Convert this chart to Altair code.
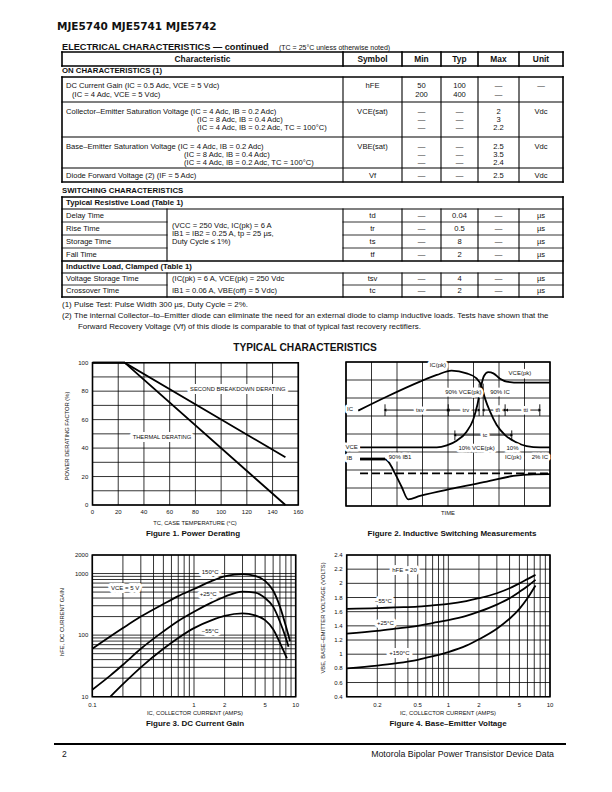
import altair as alt
import pandas as pd

W, H = 612, 792
SANS = "Liberation Sans"
NARROW = "Liberation Sans Narrow, Liberation Sans"
HEAVY = "DejaVu Sans"
INK = "#111111"

# ---------------- page / table text ----------------
page_header = "MJE5740 MJE5741 MJE5742"
section_title = "ELECTRICAL CHARACTERISTICS — continued"
section_note = "(TC = 25°C unless otherwise noted)"
col_headers = ["Characteristic", "Symbol", "Min", "Typ", "Max", "Unit"]

on_title = "ON CHARACTERISTICS (1)"
on_characteristic = [
    ["DC Current Gain (IC = 0.5 Adc, VCE = 5 Vdc)", "(IC = 4 Adc, VCE = 5 Vdc)"],
    ["Collector–Emitter Saturation Voltage (IC = 4 Adc, IB = 0.2 Adc)",
     "(IC = 8 Adc, IB = 0.4 Adc)", "(IC = 4 Adc, IB = 0.2 Adc, TC = 100°C)"],
    ["Base–Emitter Saturation Voltage (IC = 4 Adc, IB = 0.2 Adc)",
     "(IC = 8 Adc, IB = 0.4 Adc)", "(IC = 4 Adc, IB = 0.2 Adc, TC = 100°C)"],
    ["Diode Forward Voltage (2) (IF = 5 Adc)"],
]
on_symbol = ["hFE", "VCE(sat)", "VBE(sat)", "Vf"]
on_min = [["50", "200"], ["—", "—", "—"], ["—", "—", "—"], ["—"]]
on_typ = [["100", "400"], ["—", "—", "—"], ["—", "—", "—"], ["—"]]
on_max = [["—", "—"], ["2", "3", "2.2"], ["2.5", "3.5", "2.4"], ["2.5"]]
on_unit = ["—", "Vdc", "Vdc", "Vdc"]

sw_title = "SWITCHING CHARACTERISTICS"
res_title = "Typical Resistive Load (Table 1)"
res_characteristic = ["Delay Time", "Rise Time", "Storage Time", "Fall Time"]
res_conditions = ["(VCC = 250 Vdc, IC(pk) = 6 A", "IB1 = IB2 = 0.25 A, tp = 25 µs,", "Duty Cycle ≤ 1%)"]
res_symbol = ["td", "tr", "ts", "tf"]
res_min = ["—", "—", "—", "—"]
res_typ = ["0.04", "0.5", "8", "2"]
res_max = ["—", "—", "—", "—"]
res_unit = ["µs", "µs", "µs", "µs"]

ind_title = "Inductive Load, Clamped (Table 1)"
ind_characteristic = ["Voltage Storage Time", "Crossover Time"]
ind_conditions = ["(IC(pk) = 6 A, VCE(pk) = 250 Vdc", "IB1 = 0.06 A, VBE(off) = 5 Vdc)"]
ind_symbol = ["tsv", "tc"]
ind_min = ["—", "—"]
ind_typ = ["4", "2"]
ind_max = ["—", "—"]
ind_unit = ["µs", "µs"]

note_marks = ["(1)", "(2)"]
note_texts = [
    "Pulse Test: Pulse Width 300 µs, Duty Cycle = 2%.",
    "The internal Collector–to–Emitter diode can eliminate the need for an external diode to clamp inductive loads. Tests have shown that the",
]
note_cont = "Forward Recovery Voltage (Vf) of this diode is comparable to that of typical fast recovery rectifiers."

typical_title = "TYPICAL CHARACTERISTICS"
footer_page = "2"
footer_text = "Motorola Bipolar Power Transistor Device Data"

# ---------------- Figure 1: power derating ----------------
f1_x_ticks = [0, 20, 40, 60, 80, 100, 120, 140, 160]
f1_y_ticks = [0, 20, 40, 60, 80, 100]
f1_x_grid = [0, 20, 40, 60, 80, 100, 120, 140, 160]
f1_y_grid = [0, 10, 20, 30, 40, 50, 60, 70, 80, 90, 100]
f1_temp = [0, 25, 150]
f1_thermal = [100, 100, 0]
f1_second_bd = [100, 100, 33.5]
f1_labels = ["SECOND BREAKDOWN DERATING", "THERMAL DERATING"]
f1_label_x = [113, 54]
f1_label_y = [81.5, 48]

# ---------------- Figure 2: inductive switching ----------------
f2_x_grid = [0, 1, 2, 3, 4, 5, 6, 7, 8]
f2_y_grid = [0, 1, 2, 3, 4, 5, 6, 7, 8]
f2_ic_t = [0.48, 1.59, 2.90, 3.56, 4.14, 4.73, 5.12, 5.32, 5.45, 5.65, 5.91, 6.24, 6.63, 7.08, 7.61, 8.0]
f2_ic_v = [5.30, 6.07, 6.91, 7.28, 7.52, 7.37, 7.09, 6.63, 5.98, 5.24, 4.50, 3.94, 3.57, 3.33, 3.26, 3.26]
f2_vce_t = [0.55, 3.56, 3.95, 4.34, 4.73, 4.99, 5.15, 5.28, 5.41, 5.58, 5.78, 6.04, 6.30, 6.82, 8.0]
f2_vce_v = [3.26, 3.26, 3.37, 3.63, 4.13, 4.81, 5.61, 6.54, 7.22, 7.44, 7.37, 7.07, 6.91, 6.85, 6.85]
f2_ib_flat_t = [0.55, 1.53]
f2_ib_flat_v = [2.61, 2.61]
f2_ib_t = [1.53, 1.66, 1.92, 2.18, 2.44, 2.90, 4.21, 5.52, 6.56, 7.35, 8.0]
f2_ib_v = [2.61, 2.46, 1.81, 1.07, 0.37, 0.56, 0.98, 1.35, 1.67, 1.76, 1.77]
f2_ref_t = [0.55, 8.0]
f2_ref_v = [1.81, 1.81]
f2_int_names = ["tsv", "trv", "tfi", "tti", "tc"]
f2_int_start = [1.53, 4.01, 5.38, 6.30, 4.27]
f2_int_end = [4.01, 5.22, 6.24, 7.60, 6.50]
f2_int_level = [5.33, 5.33, 5.33, 5.33, 3.94]
f2_int_label_x = [2.90, 4.70, 5.95, 7.05, 5.45]
f2_mark_t = [1.53, 4.01, 5.22, 5.38, 6.24, 7.60, 4.27, 6.50]
f2_mark_lo = [5.00, 5.00, 5.00, 5.00, 5.00, 5.00, 3.65, 3.65]
f2_mark_hi = [5.65, 5.65, 6.80, 6.80, 5.65, 5.65, 4.20, 4.20]
f2_labels = ["IC(pk)", "VCE(pk)", "90% VCE(pk)", "90% IC", "IC", "VCE",
             "10% VCE(pk)", "10%", "IC(pk)", "2% IC", "IB", "90% IB1"]
f2_label_x = [3.60, 6.82, 4.60, 6.04, 0.16, 0.22, 5.12, 6.53, 6.56, 7.60, 0.13, 2.12]
f2_label_y = [7.83, 7.39, 6.35, 6.35, 5.39, 3.26, 3.20, 3.20, 2.70, 2.70, 2.65, 2.70]

# ---------------- Figure 3: DC current gain ----------------
f3_x_tick_v = [0.1, 1, 2, 5, 10]
f3_x_tick_t = ["0.1", "1", "2", "5", "10"]
f3_y_tick_v = [10, 100, 1000, 2000]
f3_y_tick_t = ["10", "100", "1000", "2000"]
f3_x_grid = [0.1, 0.2, 0.3, 0.4, 0.5, 0.6, 0.7, 0.8, 0.9, 1, 2, 3, 4, 5, 6, 7, 8, 9, 10]
f3_y_grid = [10, 20, 30, 40, 50, 60, 70, 80, 90, 100, 200, 300, 400, 500, 600, 700, 800, 900, 1000, 2000]
f3_ic_150 = [0.1, 0.2, 0.3, 0.5, 0.7, 1, 1.5, 2, 2.5, 3, 4, 5, 6, 7, 8, 8.8]
f3_hfe_150 = [60, 130, 200, 320, 430, 560, 760, 900, 960, 980, 920, 760, 530, 290, 140, 80]
f3_ic_25 = [0.1, 0.15, 0.2, 0.3, 0.5, 0.7, 1, 1.5, 2, 3, 4, 5, 6, 7, 8, 8.5]
f3_hfe_25 = [13, 22, 33, 60, 115, 170, 240, 340, 420, 510, 490, 400, 290, 165, 90, 65]
f3_ic_m55 = [0.15, 0.2, 0.3, 0.5, 0.7, 1, 1.5, 2, 3, 4, 5, 6, 7, 8.2]
f3_hfe_m55 = [10, 16, 30, 60, 90, 130, 175, 205, 225, 210, 175, 125, 75, 42]
f3_labels = ["150°C", "+25°C", "−55°C", "VCE = 5 V"]
f3_label_x = [1.44, 1.38, 1.44, 0.21]
f3_label_y = [1070, 460, 118, 575]

# ---------------- Figure 4: base-emitter voltage ----------------
f4_x_tick_v = [0.2, 0.5, 1, 2, 5, 10]
f4_x_tick_t = ["0.2", "0.5", "1", "2", "5", "10"]
f4_y_tick_v = [0.4, 0.6, 0.8, 1.0, 1.2, 1.4, 1.6, 1.8, 2.0, 2.2, 2.4]
f4_y_tick_t = ["0.4", "0.6", "0.8", "1", "1.2", "1.4", "1.6", "1.8", "2", "2.2", "2.4"]
f4_x_grid = [0.1, 0.2, 0.3, 0.4, 0.5, 0.6, 0.7, 0.8, 0.9, 1, 2, 3, 4, 5, 6, 7, 8, 9, 10]
f4_y_grid = [0.4, 0.6, 0.8, 1.0, 1.2, 1.4, 1.6, 1.8, 2.0, 2.2, 2.4]
f4_ic = [0.1, 0.2, 0.3, 0.5, 0.7, 1, 1.5, 2, 3, 4, 5, 6, 7.2]
f4_vbe_m55 = [1.64, 1.65, 1.66, 1.67, 1.69, 1.71, 1.75, 1.79, 1.86, 1.93, 2.00, 2.06, 2.12]
f4_vbe_25 = [1.29, 1.33, 1.36, 1.40, 1.44, 1.48, 1.54, 1.60, 1.70, 1.79, 1.88, 1.96, 2.05]
f4_vbe_150 = [0.80, 0.84, 0.87, 0.92, 0.97, 1.03, 1.12, 1.21, 1.36, 1.50, 1.64, 1.79, 1.97]
f4_labels = ["hFE = 20", "−55°C", "+25°C", "+150°C"]
f4_label_x = [0.37, 0.23, 0.24, 0.33]
f4_label_y = [2.19, 1.75, 1.44, 1.01]

# ======================= layout (pixels) =======================
PX = alt.Scale(domain=[0, W], range=[0, W], nice=False, zero=False)
PY = alt.Scale(domain=[0, H], range=[0, H], nice=False, zero=False)

COLX = [62, 343, 402, 441, 478, 519, 563]
CC = [(COLX[i] + COLX[i + 1]) / 2 for i in range(6)]
ON_EDGES = [77, 102, 137, 168, 182]
ON_LINE_Y = [[86, 95], [112, 120, 128], [146.5, 155, 163], [175.5]]
ON_CONT_X = [72, 197, 184, 0]
RES_Y = [215.5, 228.5, 241.5, 254.5]
RES_COND_Y = [226, 234, 242]
IND_Y = [279, 291]
COND_X = 172

STYLES = {
    "header": dict(font=HEAVY, fontSize=10.5, fontWeight="bold", align="left"),
    "section": dict(font=SANS, fontSize=9.2, fontWeight="bold", align="left"),
    "small": dict(font=SANS, fontSize=7, align="left"),
    "colhead": dict(font=NARROW, fontSize=8.4, fontWeight="bold", align="center"),
    "subhead": dict(font=NARROW, fontSize=7.8, fontWeight="bold", align="left"),
    "tabhead": dict(font=SANS, fontSize=7.8, fontWeight="bold", align="left"),
    "body": dict(font=SANS, fontSize=7.6, align="left"),
    "bodyc": dict(font=SANS, fontSize=7.6, align="center"),
    "note": dict(font=SANS, fontSize=7.9, align="left"),
    "typical": dict(font=SANS, fontSize=10.2, fontWeight="bold", align="center"),
    "axtitle": dict(font=SANS, fontSize=5.8, align="center"),
    "axtitle_v": dict(font=SANS, fontSize=5.8, align="center", angle=270),
    "caption": dict(font=SANS, fontSize=8, fontWeight="bold", align="center"),
    "foot_l": dict(font=SANS, fontSize=8.5, align="left"),
    "foot_r": dict(font=SANS, fontSize=8.8, align="right"),
}
texts = {k: [] for k in STYLES}


def put(style, x, y, t):
    texts[style].append({"x": x, "y": y, "t": t})


put("header", 57, 27, page_header)
put("section", 62, 47, section_title)
put("small", 279, 47.5, section_note)
for c, h in zip(CC, col_headers):
    put("colhead", c, 59, h)
put("subhead", 62, 71, on_title)
for r in range(len(on_characteristic)):
    ys = ON_LINE_Y[r]
    for k, line in enumerate(on_characteristic[r]):
        put("body", 66 if k == 0 else ON_CONT_X[r], ys[k], line)
    put("bodyc", CC[1], ys[0], on_symbol[r])
    for k, v in enumerate(on_min[r]):
        put("bodyc", CC[2], ys[k], v)
    for k, v in enumerate(on_typ[r]):
        put("bodyc", CC[3], ys[k], v)
    for k, v in enumerate(on_max[r]):
        put("bodyc", CC[4], ys[k], v)
    put("bodyc", CC[5], ys[0], on_unit[r])

put("subhead", 62, 191, sw_title)
put("tabhead", 66, 203, res_title)
for i in range(len(res_characteristic)):
    y = RES_Y[i]
    put("body", 66, y, res_characteristic[i])
    put("bodyc", CC[1], y, res_symbol[i])
    put("bodyc", CC[2], y, res_min[i])
    put("bodyc", CC[3], y, res_typ[i])
    put("bodyc", CC[4], y, res_max[i])
    put("bodyc", CC[5], y, res_unit[i])
for k, line in enumerate(res_conditions):
    put("body", COND_X, RES_COND_Y[k], line)
put("tabhead", 66, 267, ind_title)
for i in range(len(ind_characteristic)):
    y = IND_Y[i]
    put("body", 66, y, ind_characteristic[i])
    put("body", COND_X, y, ind_conditions[i])
    put("bodyc", CC[1], y, ind_symbol[i])
    put("bodyc", CC[2], y, ind_min[i])
    put("bodyc", CC[3], y, ind_typ[i])
    put("bodyc", CC[4], y, ind_max[i])
    put("bodyc", CC[5], y, ind_unit[i])

put("note", 62, 305, note_marks[0])
put("note", 74, 305, note_texts[0])
put("note", 62, 316, note_marks[1])
put("note", 74, 316, note_texts[1])
put("note", 78, 326.5, note_cont)

put("typical", 305, 348, typical_title)
put("axtitle_v", 67, 436, "POWER DERATING FACTOR (%)")
put("axtitle", 195, 523, "TC, CASE TEMPERATURE (°C)")
put("caption", 193, 534, "Figure 1. Power Derating")
put("axtitle", 448, 513, "TIME")
put("caption", 452, 534, "Figure 2. Inductive Switching Measurements")
put("axtitle_v", 62, 622, "hFE, DC CURRENT GAIN")
put("axtitle", 195, 713, "IC, COLLECTOR CURRENT (AMPS)")
put("caption", 195, 724, "Figure 3. DC Current Gain")
put("axtitle_v", 323, 618, "VBE, BASE–EMITTER VOLTAGE (VOLTS)")
put("axtitle", 448, 713, "IC, COLLECTOR CURRENT (AMPS)")
put("caption", 448, 724, "Figure 4. Base–Emitter Voltage")
put("foot_l", 62, 754, footer_page)
put("foot_r", 554, 754, footer_text)

# table rules
segs = []


def seg(x1, y1, x2, y2, w):
    segs.append({"x": x1, "y": y1, "x2": x2, "y2": y2, "w": w})


def box(x1, y1, x2, y2, w):
    seg(x1, y1, x2, y1, w)
    seg(x1, y2, x2, y2, w)
    seg(x1, y1, x1, y2, w)
    seg(x2, y1, x2, y2, w)


box(62, 52, 563, 66, 1.6)
for cx in COLX[1:6]:
    seg(cx, 52, cx, 66, 1.6)
box(62, ON_EDGES[0], 563, ON_EDGES[-1], 1.6)
for ey in ON_EDGES[1:-1]:
    seg(62, ey, 563, ey, 1.1)
for cx in COLX[1:6]:
    seg(cx, ON_EDGES[0], cx, ON_EDGES[-1], 1.1)
box(62, 197, 563, 297, 1.6)
seg(62, 209, 563, 209, 1.2)
seg(62, 261, 563, 261, 1.6)
seg(62, 273, 563, 273, 1.2)
for ey in [222, 235, 248, 285]:
    seg(62, ey, 167, ey, 0.8)
    seg(343, ey, 563, ey, 0.8)
for cx in [167] + COLX[1:6]:
    seg(cx, 209, cx, 261, 1.1)
    seg(cx, 273, cx, 297, 1.1)
seg(55, 744, 565, 744, 2.0)

seg_chart = alt.Chart(pd.DataFrame(segs)).mark_rule(color="black", strokeCap="square").encode(
    x=alt.X("x:Q", scale=PX, axis=None), x2="x2:Q",
    y=alt.Y("y:Q", scale=PY, axis=None), y2="y2:Q",
    size=alt.Size("w:Q", scale=None),
)
text_charts = []
for k, st in STYLES.items():
    if not texts[k]:
        continue
    text_charts.append(
        alt.Chart(pd.DataFrame(texts[k])).mark_text(baseline="middle", color=INK, **st).encode(
            x=alt.X("x:Q", scale=PX, axis=None), y=alt.Y("y:Q", scale=PY, axis=None), text="t:N")
    )
page_layer = alt.layer(seg_chart, *text_charts)


# ======================= figure helpers =======================
def frame_layers(xs, ys, xdom, ydom, xgrid, ygrid, gw=0.8):
    vg = pd.DataFrame({"g": xgrid, "a": ydom[0], "b": ydom[1]})
    hg = pd.DataFrame({"g": ygrid, "a": xdom[0], "b": xdom[1]})
    v = alt.Chart(vg).mark_rule(color="black", strokeWidth=gw).encode(
        x=alt.X("g:Q", scale=xs, axis=None), y=alt.Y("a:Q", scale=ys, axis=None), y2="b:Q")
    h = alt.Chart(hg).mark_rule(color="black", strokeWidth=gw).encode(
        y=alt.Y("g:Q", scale=ys, axis=None), x=alt.X("a:Q", scale=xs, axis=None), x2="b:Q")
    fr = alt.Chart(pd.DataFrame({"xa": [xdom[0]], "xb": [xdom[1]], "ya": [ydom[0]], "yb": [ydom[1]]})).mark_rect(
        fillOpacity=0, stroke="black", strokeWidth=1.6).encode(
        x=alt.X("xa:Q", scale=xs, axis=None), x2="xb:Q", y=alt.Y("ya:Q", scale=ys, axis=None), y2="yb:Q")
    return [v, h, fr]


def tick_layers(xs, ys, xv, xt, yv, yt, xdom, ydom, xdy, ydx):
    dx_df = pd.DataFrame({"v": xv, "t": xt, "b": ydom[0]})
    dy_df = pd.DataFrame({"v": yv, "t": yt, "b": xdom[0]})
    a = alt.Chart(dx_df).mark_text(font=SANS, fontSize=6, baseline="middle", align="center", dy=xdy, color=INK).encode(
        x=alt.X("v:Q", scale=xs, axis=None), y=alt.Y("b:Q", scale=ys, axis=None), text="t:N")
    b = alt.Chart(dy_df).mark_text(font=SANS, fontSize=6, baseline="middle", align="right", dx=ydx, color=INK).encode(
        y=alt.Y("v:Q", scale=ys, axis=None), x=alt.X("b:Q", scale=xs, axis=None), text="t:N")
    return [a, b]


def curve(xs, ys, t, v, width=1.8, interp="monotone", dash=None):
    kw = dict(color="black", strokeWidth=width, interpolate=interp)
    if dash:
        kw["strokeDash"] = dash
    return alt.Chart(pd.DataFrame({"x": t, "y": v})).mark_line(**kw).encode(
        x=alt.X("x:Q", scale=xs, axis=None), y=alt.Y("y:Q", scale=ys, axis=None))


def halo_labels(xs, ys, lx, ly, lt, size=6, halo=5):
    df = pd.DataFrame({"x": lx, "y": ly, "t": lt})
    enc = dict(x=alt.X("x:Q", scale=xs, axis=None), y=alt.Y("y:Q", scale=ys, axis=None), text="t:N")
    h = alt.Chart(df).mark_text(font=SANS, fontSize=size, baseline="middle", align="center", color="white",
                                stroke="white", strokeWidth=halo, strokeJoin="round").encode(**enc)
    t = alt.Chart(df).mark_text(font=SANS, fontSize=size, baseline="middle", align="center", color=INK).encode(**enc)
    return [h, t]


# ---------------- Figure 1 ----------------
F1X = alt.Scale(domain=[0, 160], range=[92.5, 298.3], nice=False, zero=False)
F1Y = alt.Scale(domain=[0, 100], range=[505, 362.7], nice=False, zero=False)
fig1 = alt.layer(
    *frame_layers(F1X, F1Y, [0, 160], [0, 100], f1_x_grid, f1_y_grid),
    curve(F1X, F1Y, f1_temp, f1_thermal, 1.8, "linear"),
    curve(F1X, F1Y, f1_temp, f1_second_bd, 1.8, "linear"),
    *halo_labels(F1X, F1Y, f1_label_x, f1_label_y, f1_labels, 5.8, 6),
    *tick_layers(F1X, F1Y, f1_x_ticks, [str(v) for v in f1_x_ticks], f1_y_ticks, [str(v) for v in f1_y_ticks],
                 [0, 160], [0, 100], 7.3, -4.2),
)

# ---------------- Figure 2 ----------------
F2X = alt.Scale(domain=[0, 8], range=[346, 550], nice=False, zero=False)
F2Y = alt.Scale(domain=[0, 8], range=[506, 362], nice=False, zero=False)
int_df = pd.DataFrame({"a": f2_int_start, "b": f2_int_end, "y": f2_int_level, "lx": f2_int_label_x, "t": f2_int_names})
int_rules = alt.Chart(int_df).mark_rule(color="black", strokeWidth=0.9).encode(
    x=alt.X("a:Q", scale=F2X, axis=None), x2="b:Q", y=alt.Y("y:Q", scale=F2Y, axis=None))
arrow_l = alt.Chart(int_df).mark_point(shape="triangle-left", filled=True, size=10, color="black", opacity=1, dx=2).encode(
    x=alt.X("a:Q", scale=F2X, axis=None), y=alt.Y("y:Q", scale=F2Y, axis=None))
arrow_r = alt.Chart(int_df).mark_point(shape="triangle-right", filled=True, size=10, color="black", opacity=1, dx=-2).encode(
    x=alt.X("b:Q", scale=F2X, axis=None), y=alt.Y("y:Q", scale=F2Y, axis=None))
mark_df = pd.DataFrame({"x": f2_mark_t, "lo": f2_mark_lo, "hi": f2_mark_hi})
marks = alt.Chart(mark_df).mark_rule(color="black", strokeWidth=0.9).encode(
    x=alt.X("x:Q", scale=F2X, axis=None), y=alt.Y("lo:Q", scale=F2Y, axis=None), y2="hi:Q")
fig2 = alt.layer(
    *frame_layers(F2X, F2Y, [0, 8], [0, 8], f2_x_grid, f2_y_grid),
    curve(F2X, F2Y, f2_ref_t, f2_ref_v, 1.8, "linear", [8, 4]),
    curve(F2X, F2Y, f2_ic_t, f2_ic_v, 1.8),
    curve(F2X, F2Y, f2_vce_t, f2_vce_v, 1.8),
    curve(F2X, F2Y, f2_ib_flat_t, f2_ib_flat_v, 2.8, "linear"),
    curve(F2X, F2Y, f2_ib_t, f2_ib_v, 1.8),
    marks, int_rules, arrow_l, arrow_r,
    *halo_labels(F2X, F2Y, f2_int_label_x, f2_int_level, f2_int_names, 6, 5),
    *halo_labels(F2X, F2Y, f2_label_x, f2_label_y, f2_labels, 6, 5),
)

# ---------------- Figure 3 ----------------
F3X = alt.Scale(type="log", domain=[0.1, 10], range=[92.3, 295.7], nice=False)
F3Y = alt.Scale(type="log", domain=[10, 2000], range=[696.7, 555], nice=False)
fig3 = alt.layer(
    *frame_layers(F3X, F3Y, [0.1, 10], [10, 2000], f3_x_grid, f3_y_grid),
    curve(F3X, F3Y, f3_ic_150, f3_hfe_150),
    curve(F3X, F3Y, f3_ic_25, f3_hfe_25),
    curve(F3X, F3Y, f3_ic_m55, f3_hfe_m55),
    *halo_labels(F3X, F3Y, f3_label_x, f3_label_y, f3_labels, 6, 6),
    *tick_layers(F3X, F3Y, f3_x_tick_v, f3_x_tick_t, f3_y_tick_v, f3_y_tick_t, [0.1, 10], [10, 2000], 8.3, -4),
)

# ---------------- Figure 4 ----------------
F4X = alt.Scale(type="log", domain=[0.1, 10], range=[346.7, 550], nice=False)
F4Y = alt.Scale(domain=[0.4, 2.4], range=[696.7, 555], nice=False, zero=False)
fig4 = alt.layer(
    *frame_layers(F4X, F4Y, [0.1, 10], [0.4, 2.4], f4_x_grid, f4_y_grid),
    curve(F4X, F4Y, f4_ic, f4_vbe_m55),
    curve(F4X, F4Y, f4_ic, f4_vbe_25),
    curve(F4X, F4Y, f4_ic, f4_vbe_150),
    *halo_labels(F4X, F4Y, f4_label_x, f4_label_y, f4_labels, 6, 6),
    *tick_layers(F4X, F4Y, f4_x_tick_v, f4_x_tick_t, f4_y_tick_v, f4_y_tick_t, [0.1, 10], [0.4, 2.4], 8.3, -4),
)

chart = alt.layer(page_layer, fig1, fig2, fig3, fig4).resolve_scale(
    x="independent", y="independent"
).properties(width=W, height=H, padding=0, autosize="none", background="white").configure_view(strokeWidth=0)

chart.save("out.html", embed_options={"renderer": "svg", "actions": False})
